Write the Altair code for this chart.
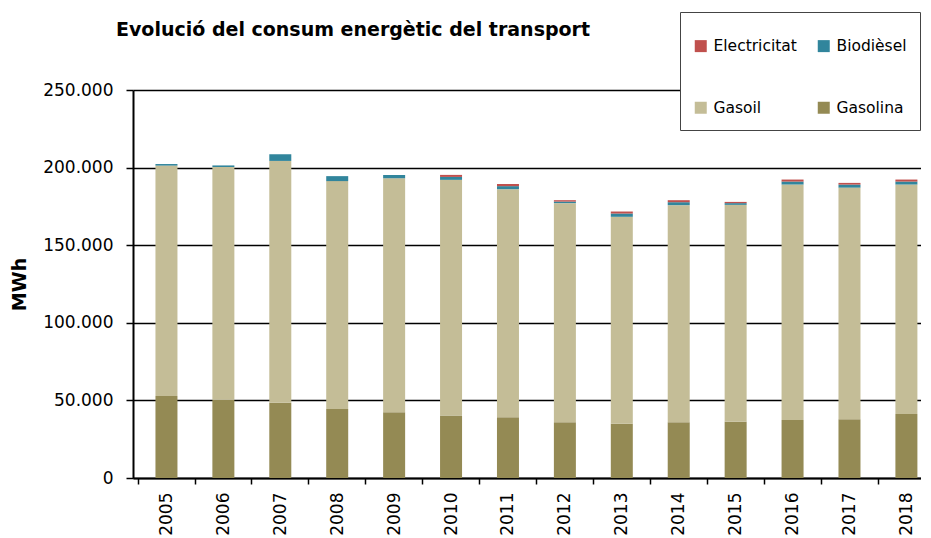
import altair as alt
import pandas as pd

years = [2005, 2006, 2007, 2008, 2009, 2010, 2011, 2012, 2013, 2014, 2015, 2016, 2017, 2018]
gasolina = [52800, 50400, 48500, 44400, 42400, 40300, 39200, 36000, 35000, 36000, 36300, 37300, 37900, 41200]
gasoil = [148500, 150000, 155800, 146900, 150800, 151800, 146900, 141100, 133300, 139800, 139700, 151800, 149200, 147900]
biodiesel = [1000, 1000, 4300, 3200, 2100, 1900, 1950, 1000, 2100, 1900, 1100, 1900, 1950, 1900]
electricitat = [0, 0, 0, 0, 0, 1300, 1400, 900, 1300, 1300, 800, 1300, 1100, 1300]

series = ["Electricitat", "Biodièsel", "Gasoil", "Gasolina"]
colors = ["#C0504D", "#31859C", "#C4BD97", "#948A54"]
y_ticks = [0, 50000, 100000, 150000, 200000, 250000]

rows = []
for i, y in enumerate(years):
    rows.append({"year": y, "serie": "Gasolina", "value": gasolina[i], "ord": 0})
    rows.append({"year": y, "serie": "Gasoil", "value": gasoil[i], "ord": 1})
    rows.append({"year": y, "serie": "Biodièsel", "value": biodiesel[i], "ord": 2})
    rows.append({"year": y, "serie": "Electricitat", "value": electricitat[i], "ord": 3})
df = pd.DataFrame(rows)

FONT = "DejaVu Sans"
step = 57.65
W = 788
H = 388

chart = alt.Chart(df).mark_bar(size=22).encode(
    x=alt.X(
        "year:Q",
        scale=alt.Scale(domain=[years[0] - 0.5, years[0] - 0.5 + W / step], nice=False, zero=False),
        axis=alt.Axis(
            values=years, format="d", title=None, labelAngle=270,
            tickOffset=-step / 2, labelOffset=step / 2, tickSize=6,
            labelPadding=8, labelFontSize=17, grid=False,
        ),
    ),
    y=alt.Y(
        "value:Q", stack="zero",
        scale=alt.Scale(domain=[0, 250000], nice=False),
        axis=alt.Axis(
            values=y_ticks, title="MWh", titleFontSize=19, titleFontWeight="bold",
            titlePadding=13, labelFontSize=17, labelPadding=13, tickSize=7,
            labelExpr="replace(format(datum.value, ','), ',', '.')",
            grid=True, gridColor="black", gridWidth=1.5, gridOpacity=1,
        ),
    ),
    color=alt.Color(
        "serie:N",
        scale=alt.Scale(domain=series, range=colors),
        legend=alt.Legend(
            title=" ", titleFontSize=8, titlePadding=5,
            orient="none", legendX=547, legendY=-78, columns=2, direction="horizontal",
            gridAlign="all",
            symbolType="square", symbolSize=144, symbolStrokeWidth=0,
            labelFontSize=15.5, labelOffset=5, rowPadding=45, columnPadding=19,
            padding=13, fillColor="white", strokeColor="#444444",
        ),
    ),
    order=alt.Order("ord:Q", sort="ascending"),
).properties(
    width=W, height=H,
    title=alt.TitleParams(
        "Evolució del consum energètic del transport",
        anchor="start", frame="group", dx=-17, dy=32, fontSize=19, fontWeight="bold",
        font=FONT, color="black",
    ),
    padding={"left": 2, "top": 3, "right": 0, "bottom": 0},
).configure_view(stroke=None).configure_axis(
    labelFont=FONT, titleFont=FONT, labelColor="black", titleColor="black",
    domainColor="black", domainWidth=2, tickColor="black", tickWidth=1.5,
).configure_legend(labelFont=FONT, titleFont=FONT, labelColor="black")

chart.save("out.html", embed_options={"renderer": "svg", "actions": False})
